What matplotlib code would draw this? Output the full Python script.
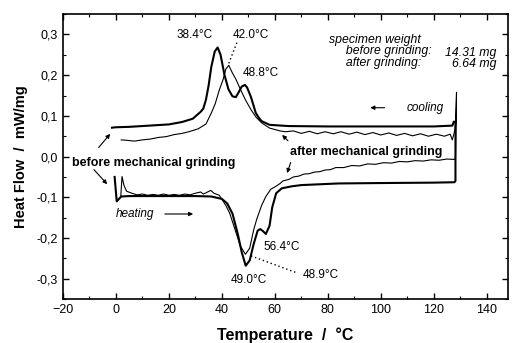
import matplotlib
matplotlib.use("Agg")
import matplotlib.pyplot as plt
from matplotlib.ticker import MultipleLocator, FuncFormatter

plt.rcParams['font.family'] = ['Liberation Sans', 'DejaVu Sans']

# Before grinding (thick) - heating, then cooling
before_heat_T = [-0.5, 0.3, 1.0, 2, 5, 10, 20, 30, 36, 40, 42, 44, 46, 47.5, 49, 50.5, 52, 53.5, 54.5,
                 55.5, 56.6, 58, 59, 60.5, 62.6, 66.4, 70, 84, 100, 120, 127.8, 128.2]
before_heat_v = [-0.05, -0.11, -0.105, -0.098, -0.097, -0.097, -0.097, -0.097, -0.098, -0.104, -0.115,
                 -0.14, -0.19, -0.235, -0.268, -0.255, -0.215, -0.182, -0.178, -0.183, -0.19, -0.17,
                 -0.125, -0.09, -0.078, -0.073, -0.07, -0.066, -0.065, -0.064, -0.063, -0.06]
before_cool_T = [128.2, 127.6, 127, 120, 100, 80, 65, 58, 55, 54, 52.8, 51, 49.5, 48.7, 47.5, 46.5,
                 45.3, 44, 42.5, 41, 39.5, 38.4, 37.3, 36, 35, 34, 33, 32, 29, 25, 20, 15, 10, 5, 0, -1.5]
before_cool_v = [0.083, 0.086, 0.076, 0.074, 0.074, 0.074, 0.075, 0.078, 0.087, 0.095, 0.107, 0.146,
                 0.17, 0.176, 0.172, 0.16, 0.146, 0.148, 0.165, 0.2, 0.25, 0.268, 0.258, 0.22, 0.175,
                 0.14, 0.118, 0.11, 0.093, 0.085, 0.079, 0.077, 0.075, 0.073, 0.072, 0.071]

# After grinding (thin, wavy) - heating, then cooling
after_heat_T = [1.8, 2.3, 3, 4, 6, 8, 10, 12, 14, 16, 18, 20, 22, 24, 26, 28, 30, 32, 33, 34, 35.8, 37,
                39, 41.5, 43, 45, 47, 48.9, 50.5, 52, 53.2, 55, 56.6, 58.5, 60.4, 62, 63, 65.3, 67, 69,
                71, 73, 75, 77, 79, 81, 83, 86, 89, 92, 95, 98, 101, 104, 107, 110, 113, 116, 119, 122,
                125, 127.5, 128.2]
after_heat_v = [-0.1, -0.049, -0.07, -0.085, -0.09, -0.094, -0.092, -0.095, -0.093, -0.095, -0.092,
                -0.095, -0.093, -0.095, -0.092, -0.094, -0.09, -0.087, -0.092, -0.089, -0.083, -0.09,
                -0.095, -0.12, -0.14, -0.18, -0.22, -0.24, -0.225, -0.18, -0.153, -0.12, -0.098, -0.08,
                -0.073, -0.066, -0.06, -0.056, -0.05, -0.048, -0.043, -0.042, -0.038, -0.037, -0.033,
                -0.032, -0.027, -0.027, -0.022, -0.023, -0.018, -0.019, -0.015, -0.016, -0.012, -0.013,
                -0.01, -0.011, -0.008, -0.009, -0.006, -0.007, -0.005]
after_cool_T = [128.2, 128.6, 128.3, 127.8, 127, 126.2, 124, 121, 118, 115, 112, 109, 106, 103, 100,
                97, 94, 91, 88, 85, 82, 79, 76, 73, 70, 67, 64, 62, 58, 55, 53, 51, 49, 47, 45.3, 44,
                42.6, 41.5, 40.5, 39, 37.5, 36, 34, 31, 27.5, 25, 22, 19, 16, 13, 10, 7, 4, 2]
after_cool_v = [-0.005, 0.158, 0.08, 0.06, 0.041, 0.055, 0.05, 0.055, 0.05, 0.056, 0.051, 0.057, 0.052,
                0.058, 0.053, 0.059, 0.054, 0.06, 0.055, 0.061, 0.056, 0.061, 0.056, 0.062, 0.057, 0.063,
                0.061, 0.063, 0.07, 0.083, 0.096, 0.115, 0.138, 0.165, 0.19, 0.205, 0.224, 0.215, 0.19,
                0.163, 0.13, 0.107, 0.08, 0.068, 0.061, 0.057, 0.054, 0.049, 0.047, 0.043, 0.041, 0.038,
                0.04, 0.041]

x_ticks = [-20, 0, 20, 40, 60, 80, 100, 120, 140]
y_ticks = [-0.3, -0.2, -0.1, 0.0, 0.1, 0.2, 0.3]

fig = plt.figure(figsize=(5.12, 3.43), dpi=100)
ax = fig.add_axes([0.123, 0.128, 0.869, 0.831])

ax.plot(before_heat_T + before_cool_T, before_heat_v + before_cool_v, color='black', lw=1.5)
ax.plot(after_heat_T + after_cool_T, after_heat_v + after_cool_v, color='black', lw=0.8)

ax.set_xlim(-20, 148)
ax.set_ylim(-0.35, 0.35)
ax.set_xticks(x_ticks)
ax.set_yticks(y_ticks)
ax.xaxis.set_minor_locator(MultipleLocator(10))
ax.yaxis.set_minor_locator(MultipleLocator(0.05))
ax.yaxis.set_major_formatter(FuncFormatter(lambda v, p: f"{v:.1f}".replace('.', ',').replace('-0,0', '0,0')))
ax.tick_params(which='both', direction='in', top=True, right=True, labelsize=9)
ax.tick_params(which='major', length=4, width=1)
ax.tick_params(which='minor', length=2, width=0.8)
for s in ax.spines.values():
    s.set_linewidth(1.2)

ax.set_xlabel('Temperature  /  °C', fontsize=11.5, fontweight='bold', labelpad=8)
ax.set_ylabel('Heat Flow  /  mW/mg', fontsize=10.5, fontweight='bold', labelpad=6)

fs = 8.5
ax.text(29.8, 0.298, '38.4°C', ha='center', va='center', fontsize=fs)
ax.text(51, 0.298, '42.0°C', ha='center', va='center', fontsize=fs)
ax.plot([42.6, 46.0], [0.229, 0.285], ls=(0, (1, 2)), color='black', lw=1)
ax.text(54.7, 0.205, '48.8°C', ha='center', va='center', fontsize=fs)
ax.text(80.4, 0.302, 'specimen weight\n     before grinding:\n     after grinding:', ha='left', va='top',
        fontsize=8.8, style='italic', linespacing=0.95)
ax.text(143.8, 0.270, '14.31 mg\n6.64 mg', ha='right', va='top', multialignment='right',
        fontsize=8.8, style='italic', linespacing=0.95)
ax.text(109.8, 0.12, 'cooling', ha='left', va='center', fontsize=fs, style='italic')
ax.annotate('', xy=(95, 0.12), xytext=(102.5, 0.12),
            arrowprops=dict(arrowstyle='-|>', color='black', lw=0.8, mutation_scale=6))
ax.text(65.7, 0.012, 'after mechanical grinding', ha='left', va='center', fontsize=9, fontweight='bold')
ax.annotate('', xy=(62, 0.058), xytext=(65.7, 0.034),
            arrowprops=dict(arrowstyle='-|>', color='black', lw=0.8, mutation_scale=6))
ax.annotate('', xy=(64.3, -0.047), xytext=(66.3, -0.008),
            arrowprops=dict(arrowstyle='-|>', color='black', lw=0.8, mutation_scale=6))
ax.text(-16.6, -0.015, 'before mechanical grinding', ha='left', va='center', fontsize=9, fontweight='bold')
ax.annotate('', xy=(-1.5, 0.061), xytext=(-7.2, 0.017),
            arrowprops=dict(arrowstyle='-|>', color='black', lw=0.8, mutation_scale=6))
ax.annotate('', xy=(-2.6, -0.073), xytext=(-9, -0.027),
            arrowprops=dict(arrowstyle='-|>', color='black', lw=0.8, mutation_scale=6))
ax.text(0, -0.141, 'heating', ha='left', va='center', fontsize=fs, style='italic')
ax.annotate('', xy=(30.2, -0.141), xytext=(17.4, -0.141),
            arrowprops=dict(arrowstyle='-|>', color='black', lw=0.8, mutation_scale=6))
ax.text(55.8, -0.222, '56.4°C', ha='left', va='center', fontsize=fs)
ax.text(50.2, -0.302, '49.0°C', ha='center', va='center', fontsize=fs)
ax.text(70.6, -0.29, '48.9°C', ha='left', va='center', fontsize=fs)
ax.plot([51.0, 68.5], [-0.244, -0.286], ls=(0, (1, 2)), color='black', lw=1)

fig.savefig('out.png', dpi=100)
